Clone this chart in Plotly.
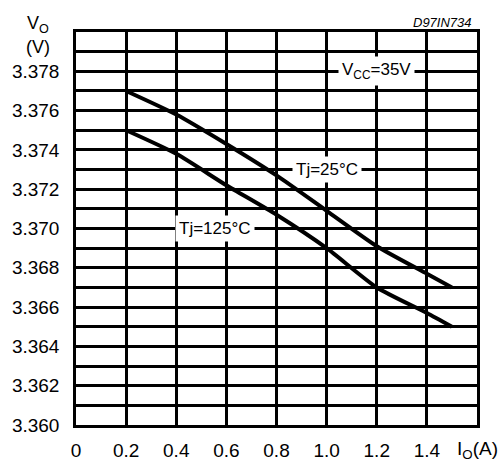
import plotly.graph_objects as go

# Data
io_25 = [0.2, 0.4, 0.6, 0.8, 1.0, 1.2, 1.4, 1.5]
vo_25 = [3.3770, 3.3758, 3.3743, 3.3727, 3.3709, 3.3691, 3.3677, 3.3670]
io_125 = [0.2, 0.4, 0.6, 0.8, 1.0, 1.2, 1.4, 1.5]
vo_125 = [3.3750, 3.3738, 3.3722, 3.3707, 3.3690, 3.3670, 3.3657, 3.3650]

x_ticks = [0, 0.2, 0.4, 0.6, 0.8, 1.0, 1.2, 1.4]
x_labels = ["0", "0.2", "0.4", "0.6", "0.8", "1.0", "1.2", "1.4"]
y_ticks = [3.360, 3.362, 3.364, 3.366, 3.368, 3.370, 3.372, 3.374, 3.376, 3.378]
y_labels = ["3.360", "3.362", "3.364", "3.366", "3.368", "3.370", "3.372", "3.374", "3.376", "3.378"]
y_minor = [3.361, 3.363, 3.365, 3.367, 3.369, 3.371, 3.373, 3.375, 3.377, 3.379]

FONT = "Liberation Sans, Arial, sans-serif"

fig = go.Figure()
for xs, ys in [(io_25, vo_25), (io_125, vo_125)]:
    fig.add_trace(go.Scatter(x=xs, y=ys, mode="lines",
                             line=dict(color="black", width=4, shape="spline", smoothing=0.6),
                             showlegend=False, hoverinfo="skip"))

ann_font = dict(family=FONT, size=17, color="black")
fig.add_annotation(x=1.2, y=3.378, text="V<sub>CC</sub>=35V", showarrow=False,
                   font=ann_font, bgcolor="white", borderpad=3)
fig.add_annotation(x=1.0, y=3.373, text="Tj=25°C", showarrow=False,
                   font=ann_font, bgcolor="white", borderpad=3)
fig.add_annotation(x=0.555, y=3.370, text="Tj=125°C", showarrow=False,
                   font=ann_font, bgcolor="white", borderpad=3)

fig.add_annotation(xref="paper", yref="paper", x=-0.096, y=1.018,
                   xanchor="center", yanchor="middle",
                   text="V<sub>O</sub>", showarrow=False, borderpad=0,
                   font=dict(family=FONT, size=18, color="black"))
fig.add_annotation(xref="paper", yref="paper", x=-0.094, y=0.963,
                   xanchor="center", yanchor="middle",
                   text="(V)", showarrow=False, borderpad=0,
                   font=dict(family=FONT, size=18, color="black"))
fig.add_annotation(xref="paper", yref="paper", x=0.99, y=1.0235,
                   xanchor="right", yanchor="middle",
                   text="<i>D97IN734</i>", showarrow=False, borderpad=0,
                   font=dict(family=FONT, size=13, color="black"))
fig.add_annotation(x=1.6, xref="x", yref="paper", y=-0.064,
                   xanchor="center", yanchor="middle",
                   text="I<sub>O</sub>(A)", showarrow=False, borderpad=0,
                   font=dict(family=FONT, size=19, color="black"))

fig.update_xaxes(range=[0, 1.6], tickmode="array", tickvals=x_ticks, ticktext=x_labels,
                 showgrid=True, gridcolor="black", gridwidth=2.5,
                 showline=True, linecolor="black", linewidth=2.5, mirror=True,
                 zeroline=False, ticks="", ticklabelstandoff=6,
                 tickfont=dict(family=FONT, size=19, color="black"))
fig.update_yaxes(range=[3.360, 3.380], tickmode="array", tickvals=y_ticks, ticktext=y_labels,
                 showgrid=True, gridcolor="black", gridwidth=2.5,
                 minor=dict(tickmode="array", tickvals=y_minor, showgrid=True,
                            gridcolor="black", gridwidth=2.5, ticks=""),
                 showline=True, linecolor="black", linewidth=2.5, mirror=True,
                 zeroline=False, ticks="", ticklabelstandoff=10,
                 tickfont=dict(family=FONT, size=19, color="black"))

fig.update_layout(width=499, height=473, margin=dict(l=72, r=22, t=32, b=36),
                  plot_bgcolor="white", paper_bgcolor="white")

fig.write_html("out.html")
